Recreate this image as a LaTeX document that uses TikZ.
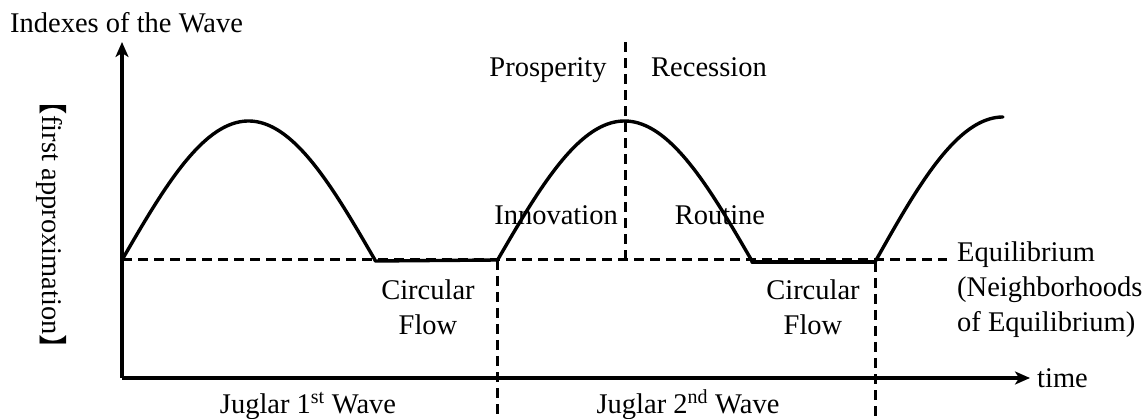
\documentclass[tikz,border=0pt]{standalone}
\usepackage{fontspec}
\setmainfont{Liberation Serif}
\newfontfamily\cjk{Noto Sans CJK SC}
\usetikzlibrary{arrows.meta}
\begin{document}
\begin{tikzpicture}[x=1pt,y=-1pt,
  lbl/.style={inner sep=0pt, font=\fontsize{28.5}{34}\selectfont},
  axis/.style={line width=3.2pt, -{Stealth[length=15pt,width=13pt,inset=4pt]}},
  wave/.style={line width=3.4pt, line cap=round, line join=round},
  dsh/.style={line width=3pt, dash pattern=on 10pt off 6pt}]
\useasboundingbox (0,0) rectangle (1148,419);
% coordinates
\coordinate (O) at (122,378);
\coordinate (Ytip) at (122,42);
\coordinate (Xtip) at (1030,378);
\coordinate (E0) at (122,260);
\coordinate (E1) at (947,260);
\coordinate (Pk) at (625,260);
\coordinate (PkTop) at (625,40);
\coordinate (B1) at (497,260);
\coordinate (B1bot) at (497,419);
\coordinate (B2) at (875,262);
\coordinate (B2bot) at (875,419);
\coordinate (F1a) at (375,261);
\coordinate (F2a) at (752,262);
% dashed lines
\draw[dsh] (E0) -- (E1);
\draw[dsh] (Pk) -- (PkTop);
\draw[dsh] (B1) -- (B1bot);
\draw[dsh] (B2) -- (B2bot);
% axes
\draw[axis] (O) -- (Ytip);
\draw[axis] (O) -- (Xtip);
% waves
\draw[wave] plot[domain=122:375,samples=90] (\x,{260-139*sin(0.711462*(\x-122))});
\draw[wave] (F1a) -- (B1);
\draw[wave] plot[domain=497:752,samples=90] (\x,{261-140*sin(0.705882*(\x-497))});
\draw[wave] (F2a) -- (B2);
\draw[wave] plot[domain=875:1003,samples=60] (\x,{262-145*sin(0.703125*(\x-875))});
% labels
\node[lbl, anchor=base west] (ylab) at (10,33) {Indexes of the Wave};
\node[lbl, rotate=-90] (approx) at (52,225) {{\cjk 【}first approximation{\cjk 】}};
\node[lbl, anchor=base] (pros) at (548,77) {Prosperity};
\node[lbl, anchor=base] (rec) at (709,77) {Recession};
\node[lbl, anchor=base] (inno) at (556,225) {Innovation};
\node[lbl, anchor=base] (rout) at (720,225) {Routine};
\node[lbl, anchor=base] (cf1a) at (428,300) {Circular};
\node[lbl, anchor=base] (cf1b) at (428,335) {Flow};
\node[lbl, anchor=base] (cf2a) at (813,300) {Circular};
\node[lbl, anchor=base] (cf2b) at (813,335) {Flow};
\node[lbl, anchor=base west] (eq1) at (957,262) {Equilibrium};
\node[lbl, anchor=base west] (eq2) at (957,297) {(Neighborhoods};
\node[lbl, anchor=base west] (eq3) at (957,332) {of Equilibrium)};
\node[lbl, anchor=base west] (time) at (1037,388) {time};
\node[lbl, anchor=base] (j1) at (308,413) {Juglar 1\textsuperscript{st} Wave};
\node[lbl, anchor=base] (j2) at (688,413) {Juglar 2\textsuperscript{nd} Wave};
\end{tikzpicture}
\end{document}
